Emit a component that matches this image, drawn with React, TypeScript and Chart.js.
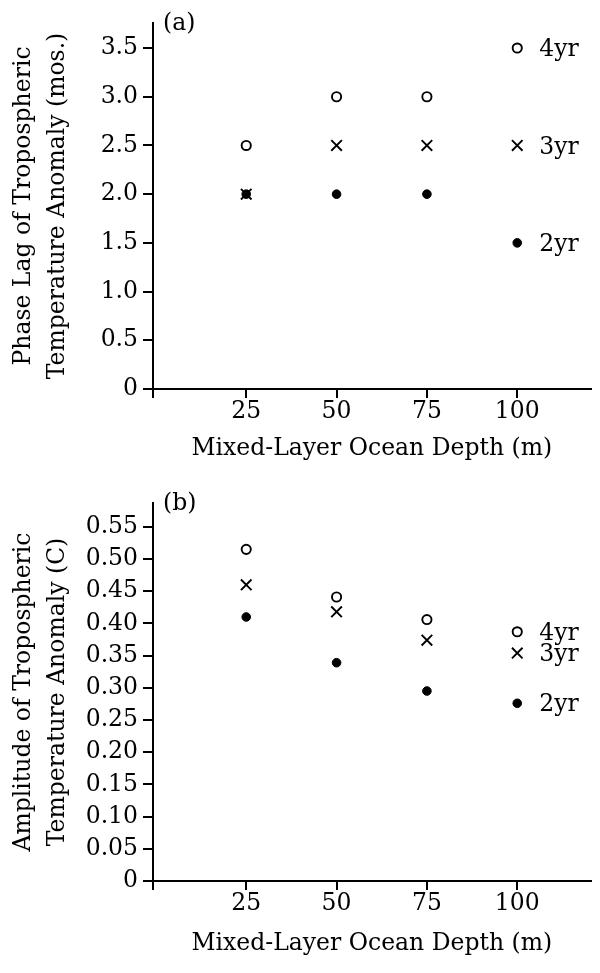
import React, { useEffect, useRef } from 'react';
import { Chart, registerables } from 'chart.js';

Chart.register(...registerables);

const FONT = "'DejaVu Serif', serif";
const FS = 23.5;

// ---- data ----
const depths = [25, 50, 75, 100];
const seriesNames = ['4yr', '3yr', '2yr'];

const phaseLag4yr = [2.5, 3.0, 3.0, 3.5];
const phaseLag3yr = [2.0, 2.5, 2.5, 2.5];
const phaseLag2yr = [2.0, 2.0, 2.0, 1.5];

const amp4yr = [0.515, 0.441, 0.406, 0.387];
const amp3yr = [0.46, 0.418, 0.374, 0.354];
const amp2yr = [0.41, 0.339, 0.295, 0.276];

const xTickValues = [25, 50, 75, 100];
const xTickLabels = ['25', '50', '75', '100'];

const phaseTicks = [0, 0.5, 1, 1.5, 2, 2.5, 3, 3.5];
const phaseTickLabels = ['0', '0.5', '1.0', '1.5', '2.0', '2.5', '3.0', '3.5'];

const ampTicks = [0, 0.05, 0.1, 0.15, 0.2, 0.25, 0.3, 0.35, 0.4, 0.45, 0.5, 0.55];
const ampTickLabels = ['0', '0.05', '0.10', '0.15', '0.20', '0.25', '0.30', '0.35', '0.40', '0.45', '0.50', '0.55'];

const xTitle = 'Mixed-Layer Ocean Depth (m)';
const phaseTitle = ['Phase Lag of Tropospheric', 'Temperature Anomaly (mos.)'];
const ampTitle = ['Amplitude of Tropospheric', 'Temperature Anomaly (C)'];

// ---- styles ----
const seriesStyles = [
  { pointStyle: 'circle', pointRadius: 4.6, pointBorderWidth: 1.9, pointBackgroundColor: '#fff', pointBorderColor: '#000' },
  { pointStyle: 'crossRot', pointRadius: 7.5, pointBorderWidth: 1.9, pointBackgroundColor: '#000', pointBorderColor: '#000' },
  { pointStyle: 'circle', pointRadius: 4.3, pointBorderWidth: 1, pointBackgroundColor: '#000', pointBorderColor: '#000' },
];

const annotatePlugin = {
  id: 'annotate',
  afterDatasetsDraw(chart: any, _args: any, opts: any) {
    const ctx = chart.ctx;
    ctx.save();
    ctx.font = `${FS}px ${FONT}`;
    ctx.fillStyle = '#000';
    ctx.textBaseline = 'middle';
    ctx.textAlign = 'left';
    chart.data.datasets.forEach((ds: any, i: number) => {
      const meta = chart.getDatasetMeta(i);
      const pt = meta.data[meta.data.length - 1];
      ctx.fillText(ds.label, pt.x + 22, pt.y + 2);
    });
    ctx.fillText(opts.panelLabel, chart.chartArea.left + 10, chart.chartArea.top + 1);
    ctx.restore();
  },
};

type PanelProps = {
  height: number;
  series: number[][];
  yMax: number;
  yTicks: number[];
  yTickLabels: string[];
  yTitle: string[];
  panelLabel: string;
  areaBottom: number;
  xTitlePad: number;
};

function Panel(p: PanelProps) {
  const ref = useRef<HTMLCanvasElement | null>(null);
  useEffect(() => {
    if (!ref.current) return;
    const datasets = p.series.map((vals, i) => ({
      label: seriesNames[i],
      data: depths.map((d, j) => ({ x: d, y: vals[j] })),
      showLine: false,
      ...seriesStyles[i],
    }));
    datasets.reverse();
    const xMin = -0.8;
    const chart = new Chart(ref.current, {
      type: 'scatter',
      data: { datasets: datasets as any },
      plugins: [annotatePlugin as any],
      options: {
        animation: false,
        responsive: false,
        layout: { padding: { top: 23, right: 3, left: 0, bottom: 0 } },
        plugins: {
          legend: { display: false },
          tooltip: { enabled: false },
          annotate: { panelLabel: p.panelLabel },
        } as any,
        scales: {
          x: {
            type: 'linear',
            min: xMin,
            max: 120.3,
            afterBuildTicks: (scale: any) => {
              scale.ticks = [{ value: xMin }, ...xTickValues.map((v) => ({ value: v }))];
            },
            afterFit: (scale: any) => {
              scale.height = p.height - p.areaBottom;
            },
            ticks: {
              autoSkip: false,
              maxRotation: 0,
              padding: 0,
              color: '#000',
              font: { family: FONT, size: FS },
              callback: (_v: any, i: number) => (i === 0 ? '' : xTickLabels[i - 1]),
            },
            grid: { drawOnChartArea: false, drawTicks: true, tickLength: 9, color: '#000', lineWidth: 2 },
            border: { display: true, color: '#000', width: 2 },
            title: {
              display: true,
              text: xTitle,
              color: '#000',
              font: { family: FONT, size: FS, lineHeight: 1.2 },
              padding: { top: 0, bottom: p.xTitlePad },
            },
          },
          y: {
            type: 'linear',
            min: 0,
            max: p.yMax,
            afterBuildTicks: (scale: any) => {
              scale.ticks = p.yTicks.map((v) => ({ value: v }));
            },
            afterFit: (scale: any) => {
              scale.width = 153;
            },
            ticks: {
              autoSkip: false,
              padding: 5,
              color: '#000',
              font: { family: FONT, size: FS },
              callback: (_v: any, i: number) => p.yTickLabels[i],
            },
            grid: { drawOnChartArea: false, drawTicks: true, tickLength: 10, color: '#000', lineWidth: 2 },
            border: { display: true, color: '#000', width: 2 },
            title: {
              display: true,
              text: p.yTitle,
              color: '#000',
              font: { family: FONT, size: FS, lineHeight: 1.45 },
              padding: { top: 7, bottom: 0 },
            },
          },
        },
      } as any,
    });
    return () => chart.destroy();
  }, []);
  return <canvas ref={ref} width={600} height={p.height} style={{ display: 'block', width: 600, height: p.height }} />;
}

export default function App() {
  return (
    <div style={{ position: 'absolute', left: 0, top: 0, width: 600, height: 973, background: '#fff' }}>
      <Panel
        height={480}
        series={[phaseLag4yr, phaseLag3yr, phaseLag2yr]}
        yMax={3.757}
        yTicks={phaseTicks}
        yTickLabels={phaseTickLabels}
        yTitle={phaseTitle}
        panelLabel="(a)"
        areaBottom={389}
        xTitlePad={17}
      />
      <Panel
        height={493}
        series={[amp4yr, amp3yr, amp2yr]}
        yMax={0.587}
        yTicks={ampTicks}
        yTickLabels={ampTickLabels}
        yTitle={ampTitle}
        panelLabel="(b)"
        areaBottom={401}
        xTitlePad={15}
      />
    </div>
  );
}
